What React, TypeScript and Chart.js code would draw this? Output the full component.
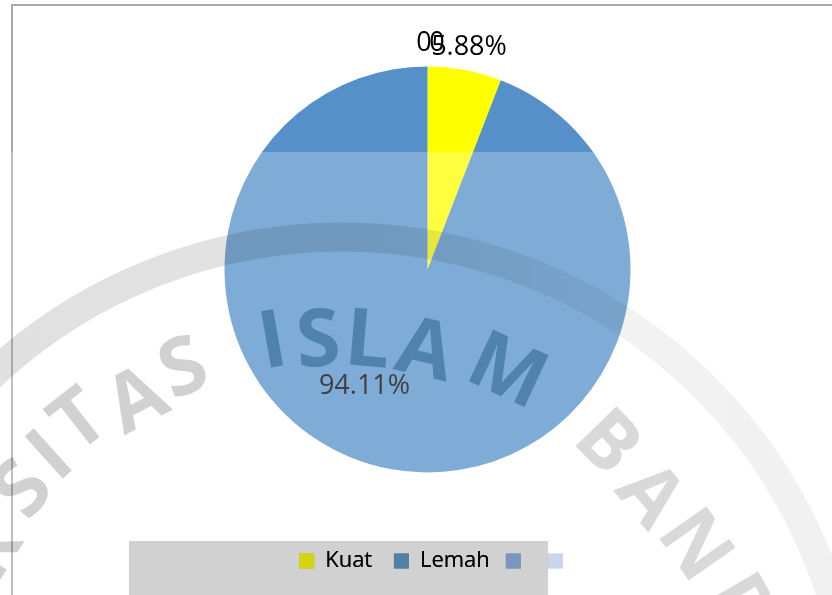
import { useEffect, useRef } from "react";
import { Chart, registerables } from "chart.js";

Chart.register(...registerables);

const categories = ["Kuat", "Lemah", "", ""];
const seriesValues = [5.88, 94.11, 0, 0];
const valueLabels = ["5.88%", "94.11%", "0", "0"];
const sliceColors = ["#ffff00", "#5590c8", "#a5a5a5", "#ffc000"];
const legendColors = ["#d4d40f", "#527fa8", "#7a98bd", "#c8d6ec"];
const labelOffsets = [
  [41.5, -222],
  [-63, 117],
  [9.5, -226],
  [-3.5, -226],
];
const labelColors = ["#000000", "#404040", "#000000", "#000000"];
const watermarkLetters = [
  ["R", -14, 548, -58, "rgba(0,0,0,0.18)"],
  ["S", 20, 487, -50, "rgba(0,0,0,0.18)"],
  ["I", 48, 453, -42, "rgba(0,0,0,0.18)"],
  ["T", 77, 418, -38, "rgba(0,0,0,0.18)"],
  ["A", 135, 397, -28, "rgba(0,0,0,0.18)"],
  ["S", 182, 365, -22, "rgba(0,0,0,0.18)"],
  ["I", 272, 338, -10, "rgba(7,70,112,0.4)"],
  ["S", 318, 337, -4, "rgba(7,70,112,0.4)"],
  ["L", 368, 337, 5, "rgba(7,70,112,0.4)"],
  ["A", 426, 347, 13, "rgba(7,70,112,0.4)"],
  ["M", 509, 368, 25, "rgba(7,70,112,0.4)"],
  ["B", 610, 440, 46, "rgba(0,0,0,0.15)"],
  ["A", 653, 493, 50, "rgba(0,0,0,0.15)"],
  ["N", 698, 543, 55, "rgba(0,0,0,0.15)"],
  ["D", 745, 605, 60, "rgba(0,0,0,0.15)"],
];

const FONT = '"Open Sans", sans-serif';

const pageDecor = {
  id: "pageDecor",
  afterLayout(chart: any) {
    chart.legend.left += 9;
    chart.legend.right += 9;
  },
  beforeDraw(chart: any) {
    const { ctx } = chart;
    ctx.save();
    ctx.fillStyle = "#ffffff";
    ctx.fillRect(0, 0, 832, 595);
    ctx.fillStyle = "#a9a9a9";
    ctx.fillRect(11, 4, 821, 2);
    ctx.fillRect(11, 4, 2, 591);
    ctx.restore();
  },
  afterDatasetsDraw(chart: any) {
    const { ctx } = chart;
    ctx.save();
    // scanned watermark sheet: a translucent white layer below y = 152
    ctx.fillStyle = "rgba(255,255,255,0.25)";
    ctx.fillRect(0, 152, 832, 443);
    ctx.beginPath();
    ctx.rect(0, 152, 832, 443);
    ctx.clip();
    const grad = ctx.createLinearGradient(0, 0, 832, 0);
    grad.addColorStop(0, "rgba(0,0,0,0.12)");
    grad.addColorStop(0.45, "rgba(0,0,0,0.11)");
    grad.addColorStop(0.75, "rgba(0,0,0,0.05)");
    grad.addColorStop(1, "rgba(0,0,0,0.055)");
    ctx.strokeStyle = grad;
    ctx.lineWidth = 29;
    ctx.beginPath();
    ctx.arc(342, 750, 513, 0, Math.PI * 2);
    ctx.stroke();
    ctx.font = `700 80px ${FONT}`;
    ctx.textAlign = "center";
    ctx.textBaseline = "alphabetic";
    for (const [ch, x, y, rot, color] of watermarkLetters as any[]) {
      ctx.save();
      ctx.translate(x, y);
      ctx.rotate((rot * Math.PI) / 180);
      ctx.fillStyle = color;
      ctx.fillText(ch, 0, 29);
      ctx.restore();
    }
    ctx.fillStyle = "rgba(0,0,0,0.18)";
    ctx.fillRect(129, 541, 419, 54);
    ctx.restore();
    chart.legend.draw();

    // data labels, placed from each arc's centre
    ctx.save();
    ctx.font = `27px ${FONT}`;
    ctx.textAlign = "center";
    ctx.textBaseline = "middle";
    const arcs = chart.getDatasetMeta(0).data;
    arcs.forEach((arc: any, i: number) => {
      ctx.fillStyle = labelColors[i];
      ctx.fillText(valueLabels[i], arc.x + labelOffsets[i][0], arc.y + labelOffsets[i][1]);
    });
    ctx.restore();
  },
};

export default function App() {
  const ref = useRef<HTMLCanvasElement | null>(null);
  useEffect(() => {
    document.body.style.margin = "0";
    const chart = new Chart(ref.current as HTMLCanvasElement, {
      type: "pie",
      data: {
        labels: categories,
        datasets: [
          {
            data: seriesValues,
            backgroundColor: sliceColors,
            borderWidth: 0,
            radius: 203,
          },
        ],
      },
      options: {
        animation: false,
        responsive: false,
        layout: { padding: { left: 23, right: 0, top: 5, bottom: 13 } },
        plugins: {
          tooltip: { enabled: false },
          legend: {
            position: "bottom",
            labels: {
              boxWidth: 15,
              boxHeight: 15,
              padding: 16,
              color: "#222222",
              font: { family: FONT, size: 22 },
              generateLabels: () =>
                categories.map((text, i) => ({
                  text: i === 0 ? text + " " : text,
                  fillStyle: legendColors[i],
                  strokeStyle: legendColors[i],
                  lineWidth: 0,
                  hidden: false,
                  index: i,
                })),
            },
          },
        },
      },
      plugins: [pageDecor],
    } as any);
    return () => chart.destroy();
  }, []);
  return <canvas ref={ref} width={832} height={595} style={{ display: "block" }} />;
}
